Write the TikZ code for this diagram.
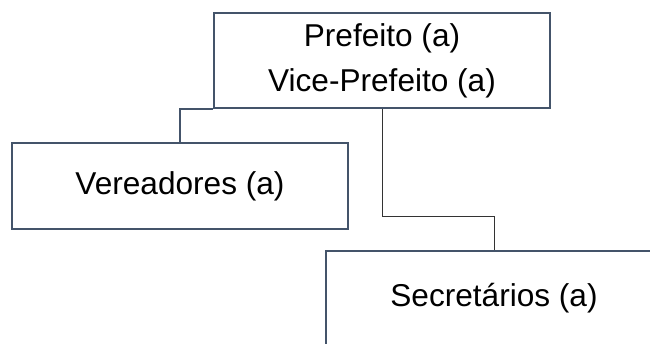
\documentclass[tikz,border=0pt]{standalone}
\usepackage{fontspec}
\setmainfont{Liberation Sans}
\usetikzlibrary{positioning}
\definecolor{boxline}{RGB}{68,84,106}
\tikzset{orgbox/.style={draw=boxline,line width=2pt,fill=white,minimum width=336pt,align=center,
  font=\fontsize{31.6}{45}\selectfont}}

\begin{document}
\begin{tikzpicture}[x=1pt,y=-1pt]
\useasboundingbox (0,0) rectangle (650,344);
\node[orgbox,minimum height=95pt] (P) at (382,60.5) {Prefeito (a)\\Vice-Prefeito (a)};
\node[orgbox,minimum height=86pt] (V) at (180,186) {Vereadores (a)};
\node[orgbox,minimum height=95pt] (S) at (494,298.5) {Secretários (a)};
\coordinate (M) at (382,216);
\draw[boxline,line width=2pt] (P.south west) -| (V.north);
\draw[black!80,line width=0.8pt] (P.south) -- (M) -| (S.north);
\end{tikzpicture}
\end{document}
